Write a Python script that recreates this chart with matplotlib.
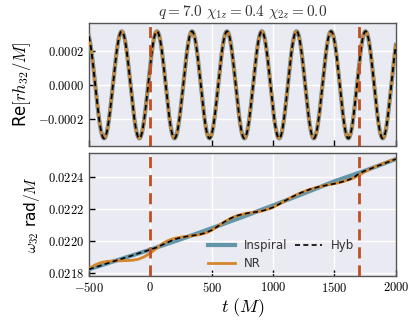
import numpy as np
import matplotlib
matplotlib.use("Agg")
import matplotlib.pyplot as plt
from matplotlib.ticker import FuncFormatter

# frequency data (rad/M)
t_insp = [-500, -250, 0, 250, 500, 750, 1000, 1250, 1500, 1750, 2000]
w_insp = [0.021825, 0.021886, 0.021947, 0.022012, 0.022080, 0.022150,
          0.022222, 0.022296, 0.022372, 0.022438, 0.022510]

t_grid = np.arange(-500, 2001, 50)
w_nr = [0.021828, 0.021852, 0.021867, 0.021874, 0.021877, 0.021878,
        0.021879, 0.021881, 0.021887, 0.021902, 0.021925, 0.021955,
        0.021985, 0.022005, 0.022018, 0.022025, 0.022030, 0.022034,
        0.022040, 0.022050, 0.022067, 0.022092, 0.022118, 0.022140,
        0.022157, 0.022167, 0.022175, 0.022180, 0.022186, 0.022196,
        0.022210, 0.022230, 0.022252, 0.022273, 0.022292, 0.022308,
        0.022322, 0.022333, 0.022342, 0.022350, 0.022357, 0.022366,
        0.022377, 0.022390, 0.022410, 0.022432, 0.022452, 0.022469,
        0.022484, 0.022498, 0.022512]
w_hyb = [0.021825, 0.021837, 0.021849, 0.021862, 0.021874, 0.021886,
         0.021898, 0.021910, 0.021923, 0.021935, 0.021947, 0.021960,
         0.021978, 0.021995, 0.022012, 0.022022, 0.022030, 0.022035,
         0.022041, 0.022052, 0.022068, 0.022092, 0.022118, 0.022140,
         0.022157, 0.022167, 0.022175, 0.022180, 0.022186, 0.022196,
         0.022210, 0.022230, 0.022252, 0.022273, 0.022292, 0.022308,
         0.022322, 0.022333, 0.022342, 0.022350, 0.022357, 0.022366,
         0.022377, 0.022392, 0.022420, 0.022438, 0.022452, 0.022467,
         0.022481, 0.022496, 0.022510]

# waveform: amplitude and time of one peak
amp = 0.000315
t_peak = 340.0

# matching window edges
t_match = [0, 1700]

c_insp = "#6396a8"
c_nr = "#d4862c"
c_win = "#bf4f22"


def strain(t_src, w_src, t_fine):
    # phase of the (3,2) mode is the time integral of its frequency
    w = np.interp(t_fine, t_src, w_src)
    ph = np.concatenate([[0.0], np.cumsum(0.5 * (w[1:] + w[:-1]) * np.diff(t_fine))])
    ph -= np.interp(t_peak, t_fine, ph)
    return amp * np.cos(ph)


plt.rcParams["mathtext.fontset"] = "cm"
plt.rcParams["font.family"] = "DejaVu Sans"

fig = plt.figure(figsize=(4.15, 3.21), dpi=100)
ax1 = fig.add_axes([0.214, 0.545, 0.740, 0.383])
ax2 = fig.add_axes([0.214, 0.140, 0.740, 0.383], sharex=ax1)

t_fine = np.linspace(-500, 2000, 3001)

ax1.plot(t_fine, strain(t_insp, w_insp, t_fine), color=c_insp, lw=3.0, zorder=3)
ax1.plot(t_fine, strain(t_grid, w_nr, t_fine), color=c_nr, lw=2.0, zorder=4)
ax1.plot(t_fine, strain(t_grid, w_hyb, t_fine), color="black", lw=1.3,
         ls=(0, (3, 2)), zorder=5)

ax2.plot(t_insp, w_insp, color=c_insp, lw=3.0, zorder=3, label="Inspiral")
ax2.plot(t_grid, w_nr, color=c_nr, lw=2.0, zorder=4, label="NR")
ax2.plot(t_grid, w_hyb, color="black", lw=1.2, ls=(0, (3, 2)), zorder=5,
         label="Hyb")

for ax in (ax1, ax2):
    ax.set_facecolor("#eaeaf2")
    ax.grid(True, color="white", lw=1.0)
    ax.set_axisbelow(True)
    for tm in t_match:
        ax.axvline(tm, color=c_win, lw=2.0, ls=(0, (4, 2.5)), zorder=6)
    for sp in ax.spines.values():
        sp.set_color("#555555")
        sp.set_linewidth(1.0)
    ax.tick_params(direction="in", length=4, width=1.0, color="black",
                   labelsize=9)

ax1.set_xlim(-500, 2000)
ax1.set_xticks([-500, 0, 500, 1000, 1500, 2000])
ax1.set_ylim(-0.00036, 0.000363)
ax1.set_yticks([-0.0002, 0.0, 0.0002])
ax1.tick_params(labelbottom=False)
ax1.yaxis.set_major_formatter(FuncFormatter(lambda v, p: f"${v:.4f}$"))
ax1.set_ylabel(r"Re$[rh_{32}/M]$", fontsize=12)
ax1.set_title(r"$q = 7.0\ \chi_{1z} = 0.4\ \chi_{2z} = 0.0$", fontsize=11,
              color="#333333", pad=5)

ax2.set_ylim(0.021783, 0.022547)
ax2.set_yticks([0.0218, 0.0220, 0.0222, 0.0224])
ax2.yaxis.set_major_formatter(FuncFormatter(lambda v, p: f"${v:.4f}$"))
ax2.xaxis.set_major_formatter(FuncFormatter(lambda v, p: f"${v:.0f}$"))
ax2.set_ylabel(r"$\omega_{32}$ rad$/M$", fontsize=11)
ax2.set_xlabel(r"$t\ (M)$", fontsize=13, labelpad=1)

leg = ax2.legend(ncol=2, loc="lower right", bbox_to_anchor=(0.90, -0.04),
                 frameon=False, fontsize=8.5, handlelength=2.3,
                 columnspacing=0.6, labelspacing=0.45, handletextpad=0.8)
for txt in leg.get_texts():
    txt.set_color("#333333")

fig.savefig("out.png", dpi=100)
